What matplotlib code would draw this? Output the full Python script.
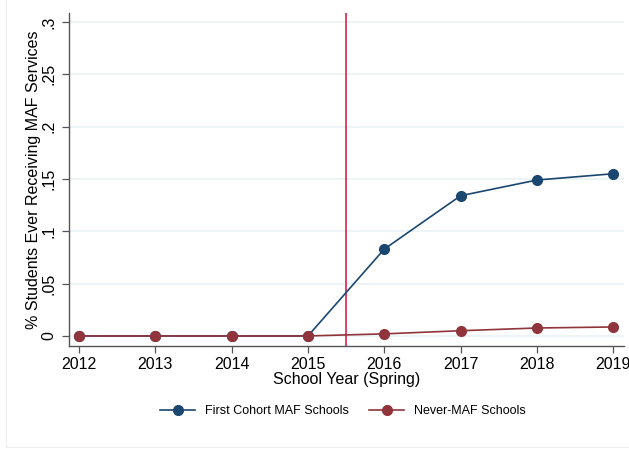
import matplotlib
matplotlib.use("Agg")
import matplotlib.pyplot as plt
from matplotlib.patches import Rectangle

# --- data ---
years = [2012, 2013, 2014, 2015, 2016, 2017, 2018, 2019]
first_cohort = [0.0, 0.0, 0.0, 0.0, 0.083, 0.134, 0.149, 0.155]
never_maf = [0.0, 0.0, 0.0, 0.0, 0.002, 0.005, 0.0076, 0.0086]
y_ticks = [0, 0.05, 0.1, 0.15, 0.2, 0.25, 0.3]
y_tick_labels = ["0", ".05", ".1", ".15", ".2", ".25", ".3"]
policy_year = 2015.5

BLUE = "#1a476f"
MAROON = "#90353b"
VLINE = "#d9345a"
GRID = "#eaf2f3"
AXIS = "#555555"

plt.rcParams["font.family"] = ["Liberation Sans", "DejaVu Sans"]

fig = plt.figure(figsize=(6.29, 4.50), dpi=100, facecolor="white")

# faint outer frame like the Stata graph region
fig.patches.append(Rectangle((6 / 629, 3 / 450), 1.0, 1.0, transform=fig.transFigure,
                             facecolor="none", edgecolor="#eeeeee", linewidth=0.8))

ax = fig.add_axes([69 / 629, 104 / 450, (624 - 69) / 629, (346 - 13) / 450])
ax.set_xlim(2011.87, 2019.14)
ax.set_ylim(-0.0096, 0.3086)

for t in y_ticks:
    ax.axhline(t, color=GRID, linewidth=1.2, zorder=0)

ax.axvline(policy_year, color=VLINE, linewidth=1.3, zorder=1)

ax.plot(years, first_cohort, color=BLUE, linewidth=1.2, marker="o", markersize=7,
        label="First Cohort MAF Schools", zorder=3)
ax.plot(years, never_maf, color=MAROON, linewidth=1.2, marker="o", markersize=7,
        label="Never-MAF Schools", zorder=4)

ax.set_yticks(y_ticks)
ax.set_yticklabels(y_tick_labels, rotation=90, va="center")
ax.set_xticks(years)
ax.tick_params(axis="both", direction="out", length=5, width=0.9, color=AXIS,
               labelsize=11.5, pad=3)
ax.tick_params(axis="y", pad=4)

for side in ["top", "right"]:
    ax.spines[side].set_visible(False)
for side in ["left", "bottom"]:
    ax.spines[side].set_color(AXIS)
    ax.spines[side].set_linewidth(1.0)

ax.set_xlabel("School Year (Spring)", fontsize=11.5, labelpad=0)
ax.set_ylabel("% Students Ever Receiving MAF Services", fontsize=11.5, labelpad=0)

fig.legend(loc="center", bbox_to_anchor=(343 / 629, 1 - 411 / 450), ncol=2,
           frameon=False, fontsize=9, handlelength=2.8, columnspacing=1.6)

fig.savefig("out.png", dpi=100, facecolor="white")
plt.close(fig)
